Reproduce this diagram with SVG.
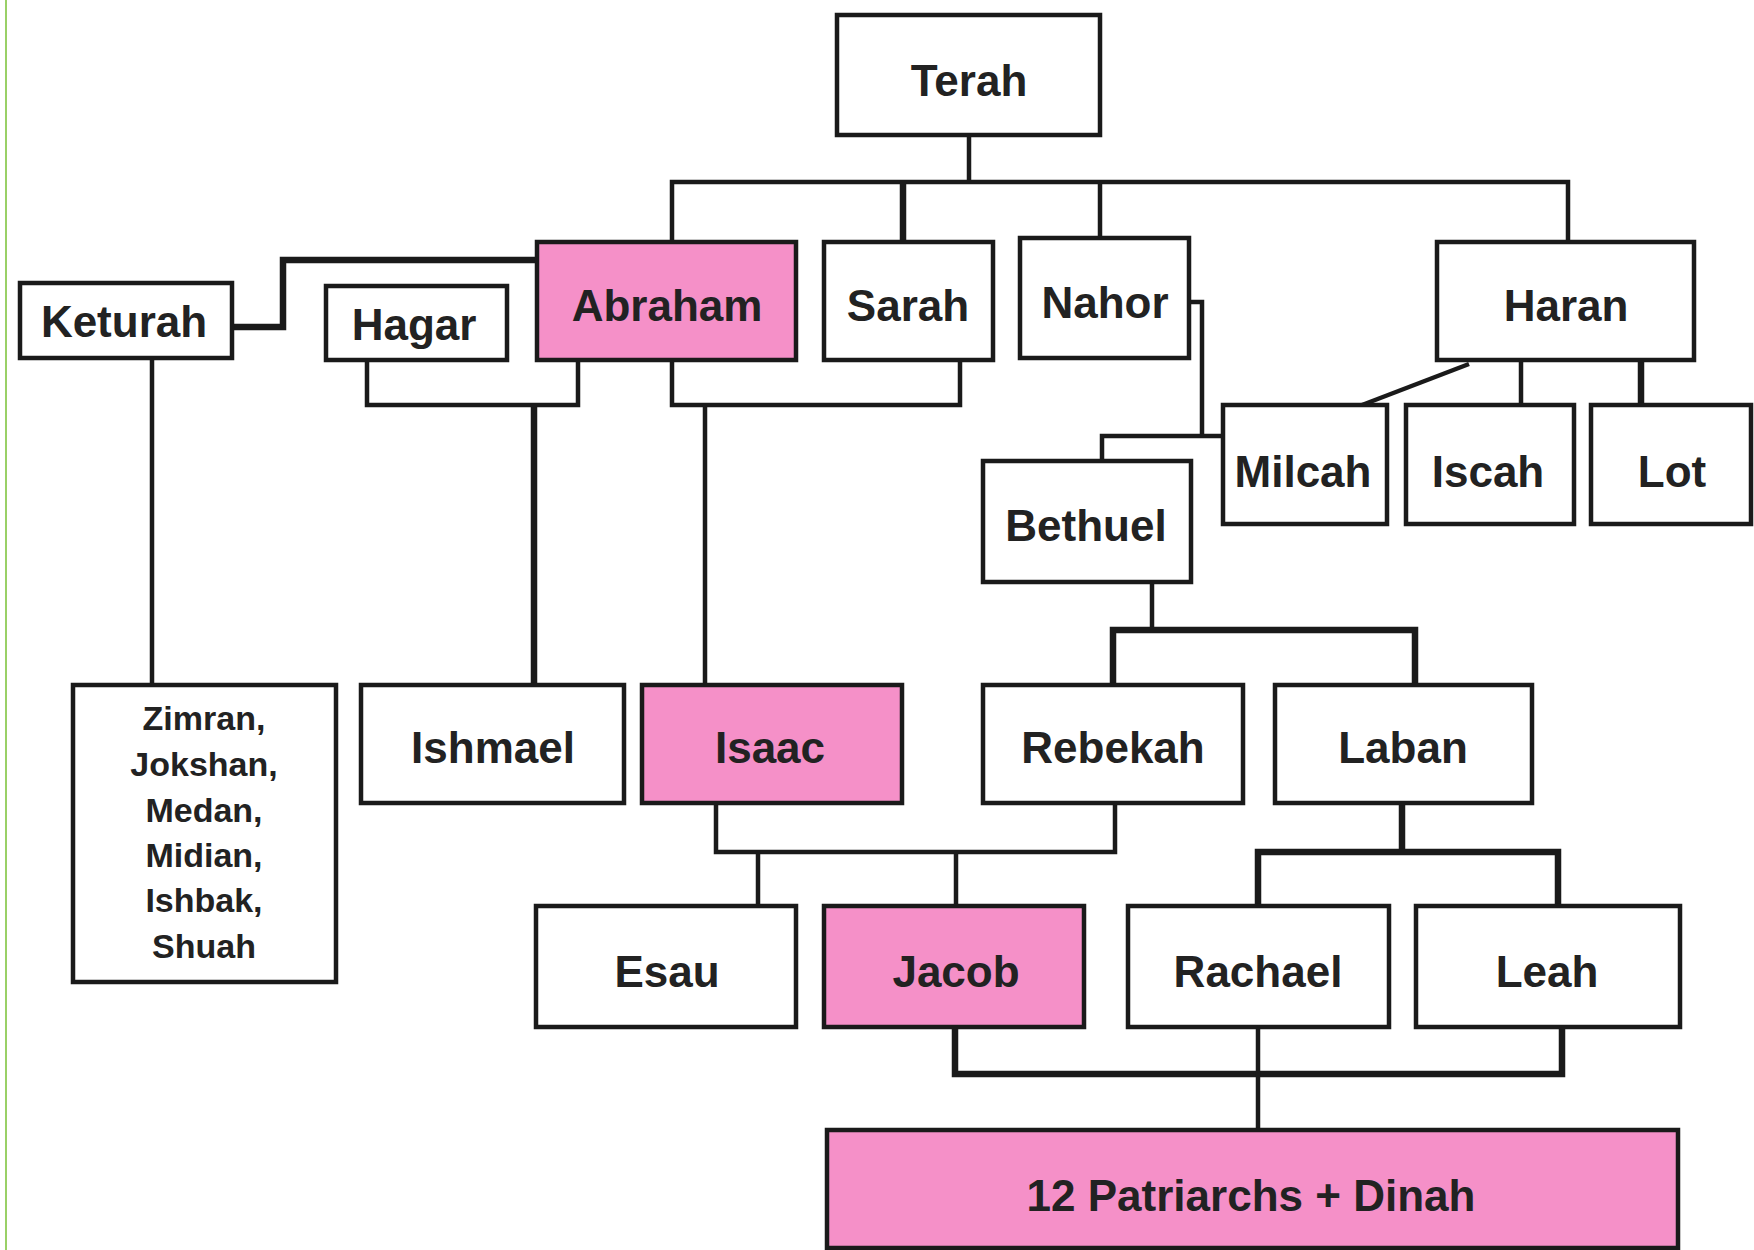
<svg xmlns="http://www.w3.org/2000/svg" width="1754" height="1250" viewBox="0 0 1754 1250">
<style>
.b{fill:#ffffff;stroke:#1a1a1a;stroke-width:4.5}
.p{fill:#f590c8;stroke:#1a1a1a;stroke-width:4.5}
.t{font-family:"Liberation Sans",Arial,sans-serif;font-weight:bold;font-size:44px;fill:#222;text-anchor:middle}
.s{font-family:"Liberation Sans",Arial,sans-serif;font-weight:bold;font-size:34px;fill:#222;text-anchor:middle}
.c{fill:none;stroke:#1a1a1a;stroke-width:4.5}
.k{fill:none;stroke:#1a1a1a;stroke-width:6.5}
</style>
<rect width="1754" height="1250" fill="#ffffff"/>
<line x1="6" y1="0" x2="6" y2="1250" stroke="#9ad067" stroke-width="2"/>
<g id="connectors">
<path class="c" d="M969,135 V182"/>
<path class="c" d="M672,242 V182 H1568 V242"/>
<path class="k" d="M903,182 V242"/>
<path class="c" d="M1100,182 V238"/>
<path class="k" d="M232,327 H283 V260 H537"/>
<path class="c" d="M367,360 V405 H578 V360"/>
<path class="k" d="M534,405 V685"/>
<path class="c" d="M672,360 V405 H960 V360"/>
<path class="c" d="M705,405 V685"/>
<path class="c" d="M152,358 V685"/>
<path class="c" d="M1189,302 H1202 V436"/>
<path class="c" d="M1223,436 H1102 V461"/>
<path class="c" d="M1469,364 L1362,405"/>
<path class="c" d="M1521,360 V405"/>
<path class="k" d="M1641,360 V405"/>
<path class="c" d="M1152,582 V630"/>
<path class="k" d="M1113,685 V630 H1415 V685"/>
<path class="c" d="M716,803 V852 H1115 V803"/>
<path class="c" d="M758,852 V906"/>
<path class="c" d="M956,852 V906"/>
<path class="k" d="M1402,803 V852"/>
<path class="k" d="M1258,906 V852 H1558 V906"/>
<path class="k" d="M955,1027 V1074 H1562 V1027"/>
<path class="c" d="M1258,1027 V1130"/>
</g>
<g id="terah"><rect class="b" x="837" y="15" width="263" height="120"/><text class="t" x="969" y="96">Terah</text></g>
<g id="abraham"><rect class="p" x="537" y="242" width="259" height="118"/><text class="t" x="667" y="321">Abraham</text></g>
<g id="sarah"><rect class="b" x="824" y="242" width="169" height="118"/><text class="t" x="908" y="321">Sarah</text></g>
<g id="nahor"><rect class="b" x="1020" y="238" width="169" height="120"/><text class="t" x="1105" y="318">Nahor</text></g>
<g id="haran"><rect class="b" x="1437" y="242" width="257" height="118"/><text class="t" x="1566" y="321">Haran</text></g>
<g id="keturah"><rect class="b" x="20" y="283" width="212" height="75"/><text class="t" x="124" y="337">Keturah</text></g>
<g id="hagar"><rect class="b" x="326" y="286" width="181" height="74"/><text class="t" x="414" y="340">Hagar</text></g>
<g id="milcah"><rect class="b" x="1223" y="405" width="164" height="119"/><text class="t" x="1303" y="487">Milcah</text></g>
<g id="iscah"><rect class="b" x="1406" y="405" width="168" height="119"/><text class="t" x="1488" y="487">Iscah</text></g>
<g id="lot"><rect class="b" x="1591" y="405" width="160" height="119"/><text class="t" x="1672" y="487">Lot</text></g>
<g id="bethuel"><rect class="b" x="983" y="461" width="208" height="121"/><text class="t" x="1086" y="541">Bethuel</text></g>
<g id="keturah-sons"><rect class="b" x="73" y="685" width="263" height="297"/>
<text class="s" x="204" y="730">Zimran,</text>
<text class="s" x="204" y="776">Jokshan,</text>
<text class="s" x="204" y="822">Medan,</text>
<text class="s" x="204" y="867">Midian,</text>
<text class="s" x="204" y="912">Ishbak,</text>
<text class="s" x="204" y="958">Shuah</text></g>
<g id="ishmael"><rect class="b" x="361" y="685" width="263" height="118"/><text class="t" x="493" y="763">Ishmael</text></g>
<g id="isaac"><rect class="p" x="642" y="685" width="260" height="118"/><text class="t" x="770" y="763">Isaac</text></g>
<g id="rebekah"><rect class="b" x="983" y="685" width="260" height="118"/><text class="t" x="1113" y="763">Rebekah</text></g>
<g id="laban"><rect class="b" x="1275" y="685" width="257" height="118"/><text class="t" x="1403" y="763">Laban</text></g>
<g id="esau"><rect class="b" x="536" y="906" width="260" height="121"/><text class="t" x="667" y="987">Esau</text></g>
<g id="jacob"><rect class="p" x="824" y="906" width="260" height="121"/><text class="t" x="956" y="987">Jacob</text></g>
<g id="rachael"><rect class="b" x="1128" y="906" width="261" height="121"/><text class="t" x="1258" y="987">Rachael</text></g>
<g id="leah"><rect class="b" x="1416" y="906" width="264" height="121"/><text class="t" x="1547" y="987">Leah</text></g>
<g id="patriarchs"><rect class="p" x="827" y="1130" width="851" height="118"/><text class="t" x="1251" y="1211">12 Patriarchs + Dinah</text></g>
</svg>
